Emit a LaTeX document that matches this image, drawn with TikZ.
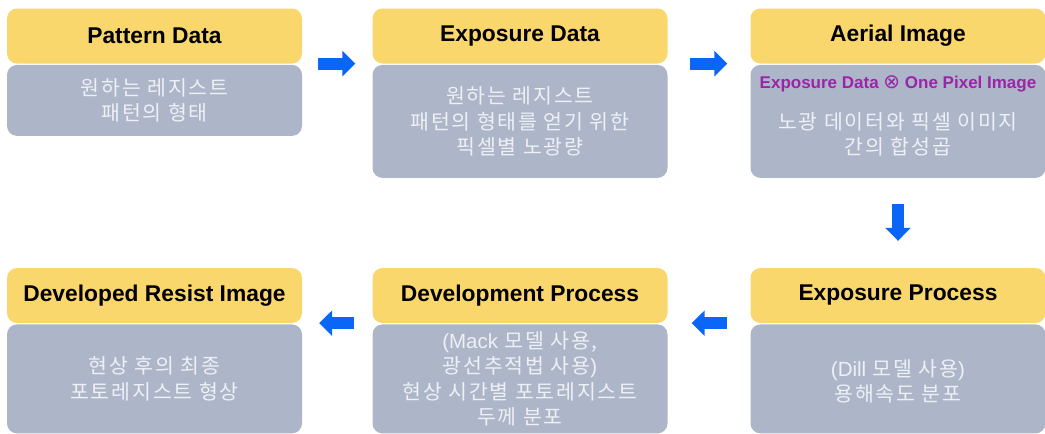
\documentclass[tikz,border=0pt]{standalone}
\usepackage{fontspec}
\setmainfont{Liberation Sans}
\newfontfamily\kr[LetterSpace=9]{Noto Sans CJK KR}
\newfontfamily\sym{DejaVu Sans}
\usetikzlibrary{positioning,arrows.meta}

\definecolor{headyel}{HTML}{FAD76C}
\definecolor{bodygrey}{HTML}{ADB6C9}
\definecolor{bodytxt}{HTML}{EEF0F5}
\definecolor{convpurple}{HTML}{9A25A8}
\definecolor{arrowblue}{HTML}{0A66F7}

\begin{document}
\begin{tikzpicture}[x=1pt,y=-1pt,
  head/.style={fill=headyel,rounded corners=10pt,minimum width=295pt,minimum height=55pt,
    font=\fontsize{22.8}{27}\selectfont\bfseries},
  body/.style={fill=bodygrey,rounded corners=10pt,minimum width=295pt,below=1pt of #1,
    text=bodytxt,align=center,font=\kr\fontsize{20.5}{25.5}\selectfont},
  bodytext/.style={text=bodytxt,align=center,font=\kr\fontsize{20.5}{25}\selectfont},
  flow/.style={arrowblue,line width=12pt,-{Triangle[length=13pt 0 0,width=25pt 0 0]}}]
\useasboundingbox (0,0) rectangle (1045,434);

% top row
\node[head] (pat-h) at (154.5,36) {Pattern Data};
\node[body=pat-h,minimum height=71pt] (pat-b) {원하는 레지스트\\패턴의 형태};

\node[head] (exp-h) at (520,36) {Exposure Data};
\node[body=exp-h,minimum height=113pt] (exp-b) {원하는 레지스트\\패턴의 형태를 얻기 위한\\픽셀별 노광량};

\node[head] (aer-h) at (898,36) {Aerial Image};
\node[body=aer-h,minimum height=113pt] (aer-b) {};
\node[text=convpurple,font=\fontsize{17}{20}\selectfont\bfseries] (conv)
  at ([yshift=-19pt]aer-b.north) {Exposure Data {\sym\mdseries\fontsize{20}{20}\selectfont ⊗} One Pixel Image};
\node[bodytext] (aer-t) at ([yshift=-70pt]aer-b.north) {노광 데이터와 픽셀 이미지\\간의 합성곱};

% bottom row
\node[head] (res-h) at (154.5,295.5) {Developed Resist Image};
\node[body=res-h,minimum height=109pt] (res-b) {현상 후의 최종\\포토레지스트 형상};

\node[head] (dev-h) at (520,295.5) {Development Process};
\node[body=dev-h,minimum height=109pt] (dev-b) {{\rmfamily (Mack} 모델 사용,\\광선추적법 사용{\rmfamily )}\\현상 시간별 포토레지스트\\두께 분포};

\node[head] (dose-h) at (898,295.5) {Exposure Process};
\node[body=dose-h,minimum height=109pt] (dose-b) {};
\node[bodytext] (dose-t) at ([yshift=-57.5pt]dose-b.north) {{\rmfamily (Dill} 모델 사용{\rmfamily )}\\용해속도 분포};

% flow arrows
\draw[flow] ([xshift=16pt]pat-h.south east) -- ([xshift=-17pt]exp-h.south west);
\draw[flow] ([xshift=22pt]exp-h.south east) -- ([xshift=-23pt]aer-h.south west);
\draw[flow] ([yshift=-26pt]aer-b.south) -- ([yshift=27pt]dose-h.north);
\draw[flow] ([xshift=-23pt]dose-h.south west) -- ([xshift=24pt]dev-h.south east);
\draw[flow] ([xshift=-18pt]dev-h.south west) -- ([xshift=17pt]res-h.south east);
\end{tikzpicture}
\end{document}
